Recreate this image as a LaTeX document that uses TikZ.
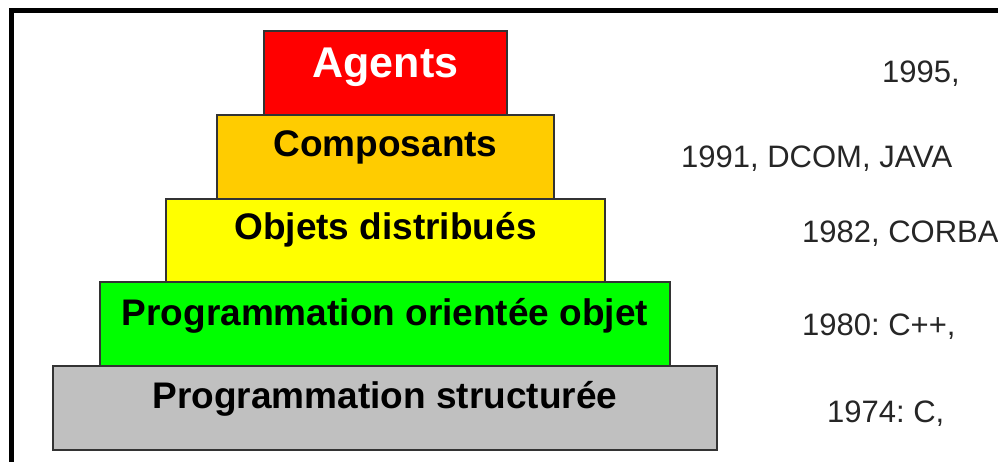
\documentclass[tikz,border=0pt]{standalone}
\usepackage{fontspec}
\setmainfont{Liberation Sans}
\usepackage{tikz}
\usetikzlibrary{positioning}
\frenchspacing
\definecolor{agentred}{HTML}{FF0000}
\definecolor{compoorange}{HTML}{FFCC00}
\definecolor{distyellow}{HTML}{FFFF00}
\definecolor{poogreen}{HTML}{00FF00}
\definecolor{structgray}{HTML}{C0C0C0}
\tikzset{
    frame line/.style={line width=5pt,black},
    layer/.style={draw=black!80,line width=1.3pt,rectangle,anchor=north west,inner sep=0pt,outer sep=0pt},
    layer text/.style={anchor=base,inner sep=0pt,font=\fontsize{37}{44}\selectfont\bfseries},
    date text/.style={anchor=base west,inner sep=0pt,text=black!85,font=\fontsize{31}{37}\selectfont},
}

\begin{document}
\begin{tikzpicture}[x=1pt,y=-1pt]
        \useasboundingbox (0,0) rectangle (998,462);
        \draw[frame line] (11,462) -- (11,10.8) -- (998,10.8);
        % the pyramid, top to bottom
        \node[layer,fill=agentred,minimum width=243pt,minimum height=84pt] (agents) at (264,31) {};
        \node[layer,fill=compoorange,minimum width=337pt,minimum height=84pt] (compo) at (217,115) {};
        \node[layer,fill=distyellow,minimum width=439pt,minimum height=83pt] (dist) at (166,199) {};
        \node[layer,fill=poogreen,minimum width=570pt,minimum height=84pt] (poo) at (100,282) {};
        \node[layer,fill=structgray,minimum width=664pt,minimum height=84pt] (struct) at (53,366) {};
        \node[layer text,text=white,font=\fontsize{43}{50}\selectfont\bfseries] (agentslbl) at ([yshift=-47pt]agents.north) {Agents};
        \node[layer text] (compolbl) at ([yshift=-42pt]compo.north) {Composants};
        \node[layer text] (distlbl) at ([yshift=-41pt]dist.north) {Objets distribués};
        \node[layer text] (poolbl) at ([yshift=-43pt]poo.north) {Programmation orientée objet};
        \node[layer text] (structlbl) at ([yshift=-42pt]struct.north) {Programmation structurée};
        % dates
        \node[date text] (agentsdate) at (882,83) {1995,};
        \node[date text] (compodate) at (681,168) {1991, DCOM, JAVA};
        \node[date text] (distdate) at (802,243) {1982, CORBA};
        \node[date text] (poodate) at (802,335) {1980: C++,};
        \node[date text] (structdate) at (827,422) {1974: C,};
    \end{tikzpicture}
\end{document}
